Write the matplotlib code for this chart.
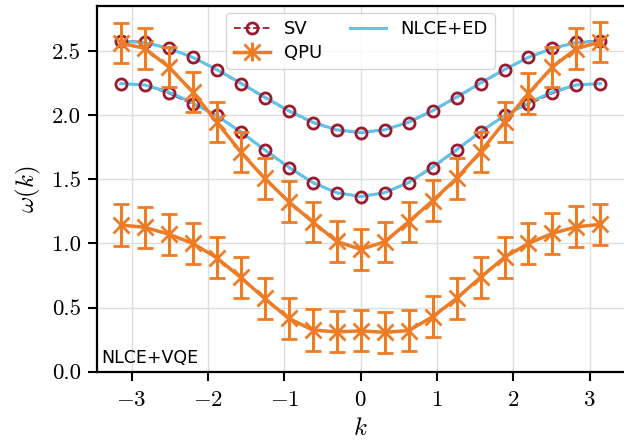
import matplotlib
matplotlib.use("Agg")
import matplotlib.pyplot as plt
import numpy as np

plt.rcParams['font.family'] = 'serif'
plt.rcParams['font.serif'] = ['cmr10']
plt.rcParams['mathtext.fontset'] = 'cm'
plt.rcParams['axes.formatter.use_mathtext'] = True
plt.rcParams['axes.unicode_minus'] = True

# momenta k = -pi ... pi (21 points)
K = np.linspace(-np.pi, np.pi, 21)

# exact state-vector results (two bands)
SV_UP = [2.58, 2.57, 2.52, 2.45, 2.35, 2.245, 2.135, 2.03, 1.94, 1.88, 1.86,
         1.885, 1.94, 2.03, 2.135, 2.245, 2.35, 2.45, 2.52, 2.57, 2.58]
SV_LO = [2.245, 2.235, 2.17, 2.085, 2.0, 1.865, 1.725, 1.59, 1.47, 1.395, 1.365,
         1.395, 1.47, 1.59, 1.725, 1.865, 2.0, 2.085, 2.17, 2.235, 2.245]

# NLCE+ED reference curves
ED_UP = [2.575, 2.565, 2.52, 2.45, 2.355, 2.25, 2.14, 2.035, 1.945, 1.885, 1.865,
         1.885, 1.945, 2.035, 2.14, 2.25, 2.355, 2.45, 2.52, 2.565, 2.575]
ED_LO = [2.245, 2.235, 2.18, 2.095, 1.995, 1.87, 1.73, 1.595, 1.475, 1.395, 1.365,
         1.395, 1.475, 1.595, 1.73, 1.87, 1.995, 2.095, 2.18, 2.235, 2.245]

# QPU results (NLCE+VQE) with error bars
QPU_UP = [2.56, 2.52, 2.375, 2.18, 1.947, 1.713, 1.506, 1.326, 1.168, 1.016, 0.953,
          1.012, 1.168, 1.332, 1.506, 1.713, 1.947, 2.168, 2.375, 2.518, 2.57]
QPU_LO = [1.143, 1.125, 1.072, 1.0, 0.888, 0.735, 0.571, 0.416, 0.325, 0.31, 0.318,
          0.307, 0.32, 0.428, 0.571, 0.735, 0.891, 1.0, 1.078, 1.129, 1.148]
ERR_UP = [0.158] * 21
ERR_LO = [0.16] * 21

red = '#9a1b30'
orange = '#ec7c26'
blue = '#62c3ea'

fig = plt.figure(figsize=(6.24, 4.46), dpi=100)
ax = fig.add_axes([0.155, 0.1666, 0.8457, 0.820])

for y in (SV_UP, SV_LO):
    ax.plot(K, y, ls='--', color=red, lw=1.3, zorder=2)
for y in (ED_UP, ED_LO):
    ax.plot(K, y, color=blue, lw=2.2, zorder=3)
for y in (SV_UP, SV_LO):
    ax.plot(K, y, ls='none', marker='o', ms=8, mfc='none', mec=red, mew=2, zorder=4)
for y, e in ((QPU_UP, ERR_UP), (QPU_LO, ERR_LO)):
    ax.errorbar(K, y, yerr=e, color=orange, lw=2.5, marker='x', ms=12, mew=2,
                capsize=5.5, capthick=2, elinewidth=2.2, zorder=5)

# legend handles
h_sv, = ax.plot([], [], ls='--', color=red, lw=1.3, marker='o', ms=8, mfc='none', mew=2)
h_qpu = ax.errorbar([], [], yerr=[], color=orange, lw=2.5, marker='x', ms=12, mew=2,
                    capsize=5.5, capthick=2, elinewidth=2.2)
h_ed, = ax.plot([], [], color=blue, lw=2.2)
ax.legend([h_sv, h_qpu, h_ed], ['SV', 'QPU', 'NLCE+ED'], ncol=2, loc='upper center',
          prop={'family': 'DejaVu Sans', 'size': 13}, borderaxespad=0.4,
          columnspacing=1.5, handletextpad=0.8, labelspacing=0.3)

ax.text(0.008, 0.012, 'NLCE+VQE', transform=ax.transAxes, family='DejaVu Sans',
        fontsize=12.5, ha='left', va='bottom')

ax.set_xlim(-1.1 * np.pi, 1.1 * np.pi)
ax.set_ylim(0, 2.85)
ax.set_xticks([-3, -2, -1, 0, 1, 2, 3])
ax.set_yticks([0.0, 0.5, 1.0, 1.5, 2.0, 2.5])
ax.set_yticklabels(['0.0', '0.5', '1.0', '1.5', '2.0', '2.5'])
ax.grid(True, color='#dddddd', lw=1)
ax.set_axisbelow(True)
ax.tick_params(labelsize=16.5, length=6.5, width=1.5)
ax.tick_params(axis='x', pad=7)
ax.tick_params(axis='y', pad=5)
for s in ax.spines.values():
    s.set_linewidth(1.6)
ax.spines['right'].set_visible(False)
ax.set_xlabel('$k$', fontsize=18, labelpad=6)
ax.set_ylabel(r'$\omega(k)$', fontsize=18, labelpad=6)

fig.savefig('out.png', dpi=100)
